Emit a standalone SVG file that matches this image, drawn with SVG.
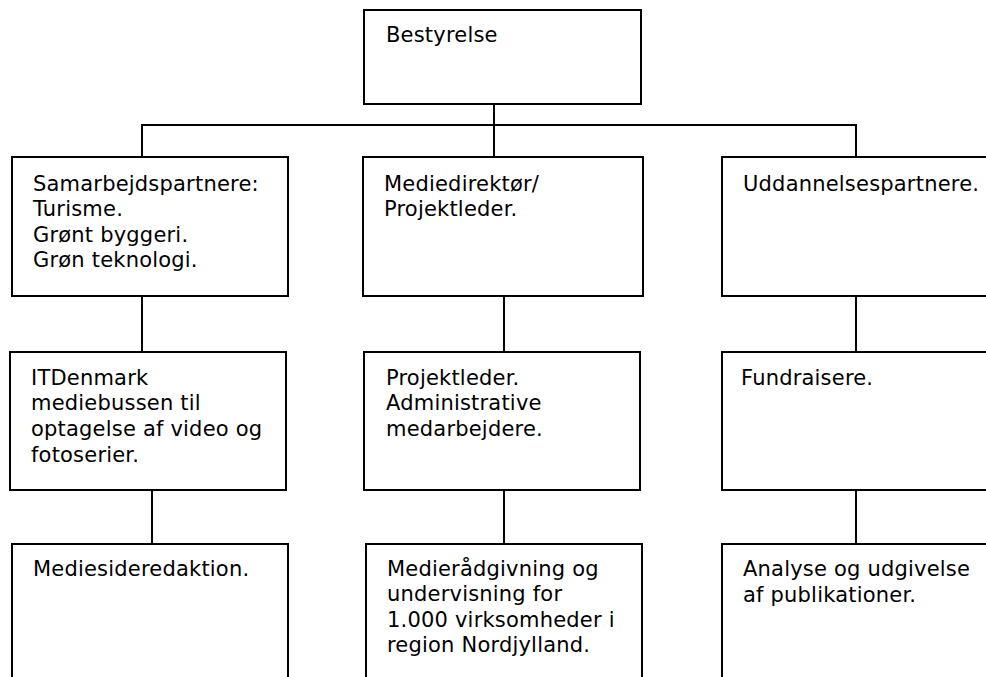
<svg xmlns="http://www.w3.org/2000/svg" width="986" height="677" viewBox="0 0 986 677">
<style>
.box{fill:#fff;stroke:#000;stroke-width:2}
.ln{stroke:#000;stroke-width:2;fill:none}
text{font-family:"DejaVu Sans","Verdana",sans-serif;font-size:21px;fill:#000;letter-spacing:0.2px}
</style>
<rect width="986" height="677" fill="#fff"/>
<g id="connectors">
<line class="ln" x1="494" y1="104" x2="494" y2="157"/>
<line class="ln" x1="141" y1="125" x2="857" y2="125"/>
<line class="ln" x1="142" y1="125" x2="142" y2="157"/>
<line class="ln" x1="856" y1="125" x2="856" y2="157"/>
<line class="ln" x1="142" y1="296" x2="142" y2="352"/>
<line class="ln" x1="152" y1="490" x2="152" y2="544"/>
<line class="ln" x1="504" y1="296" x2="504" y2="352"/>
<line class="ln" x1="504" y1="490" x2="504" y2="544"/>
<line class="ln" x1="856" y1="296" x2="856" y2="352"/>
<line class="ln" x1="856" y1="490" x2="856" y2="544"/>
</g>
<g id="bestyrelse">
<rect class="box" x="364" y="10" width="277" height="94"/>
<text x="386" y="42">Bestyrelse</text>
</g>
<g id="samarbejdspartnere">
<rect class="box" x="12" y="157" width="276" height="139"/>
<text x="33" y="191">Samarbejdspartnere:</text>
<text x="33" y="216.3">Turisme.</text>
<text x="33" y="241.6">Grønt byggeri.</text>
<text x="33" y="266.9">Grøn teknologi.</text>
</g>
<g id="mediedirektoer">
<rect class="box" x="363" y="157" width="280" height="139"/>
<text x="384" y="191">Mediedirektør/</text>
<text x="384" y="216.3">Projektleder.</text>
</g>
<g id="uddannelsespartnere">
<rect class="box" x="722" y="157" width="300" height="139"/>
<text x="743" y="191">Uddannelsespartnere.</text>
</g>
<g id="itdenmark">
<rect class="box" x="10" y="352" width="276" height="138"/>
<text x="31" y="384.5">ITDenmark</text>
<text x="31" y="410.3">mediebussen til</text>
<text x="31" y="436.1">optagelse af video og</text>
<text x="31" y="461.9">fotoserier.</text>
</g>
<g id="projektleder">
<rect class="box" x="364" y="352" width="276" height="138"/>
<text x="386" y="384.5">Projektleder.</text>
<text x="386" y="410.3">Administrative</text>
<text x="386" y="436.1">medarbejdere.</text>
</g>
<g id="fundraisere">
<rect class="box" x="722" y="352" width="300" height="138"/>
<text x="741" y="384.5">Fundraisere.</text>
</g>
<g id="mediesideredaktion">
<rect class="box" x="12" y="544" width="276" height="200"/>
<text x="33" y="576">Mediesideredaktion.</text>
</g>
<g id="medieraadgivning">
<rect class="box" x="366" y="544" width="276" height="200"/>
<text x="387" y="575.5">Medierådgivning og</text>
<text x="387" y="601">undervisning for</text>
<text x="387" y="626.5">1.000 virksomheder i</text>
<text x="387" y="652">region Nordjylland.</text>
</g>
<g id="analyse">
<rect class="box" x="722" y="544" width="300" height="200"/>
<text x="743" y="576">Analyse og udgivelse</text>
<text x="743" y="601.5">af publikationer.</text>
</g>
</svg>
